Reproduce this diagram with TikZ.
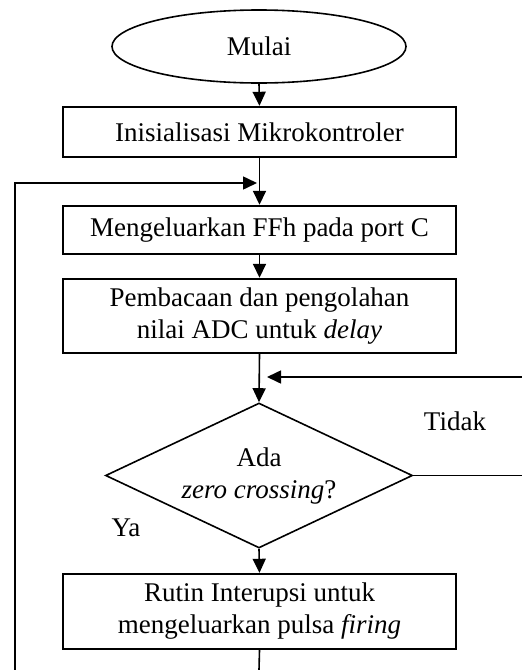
\documentclass[tikz,border=0pt]{standalone}
\usepackage{fontspec}
\setmainfont{Liberation Serif}
\usetikzlibrary{shapes.geometric,arrows.meta}
\begin{document}
\begin{tikzpicture}[x=1pt,y=-1pt,
  every node/.style={font=\fontsize{27}{32}\selectfont},
  procbox/.style={draw,line width=2.4pt,minimum width=393pt,inner sep=0pt,align=center},
  term/.style={draw,ellipse,line width=1.6pt,minimum width=294pt,minimum height=73pt,inner sep=0pt},
  decide/.style={draw,diamond,aspect=2.117,line width=1.6pt,minimum width=307pt,minimum height=145pt,inner sep=0pt,align=center},
  conn/.style={line width=1.6pt},
  arr/.style={conn,-{Triangle[width=13pt,length=14pt]}},
  lbl/.style={inner sep=0pt}]
\fill[white] (0,0) rectangle (522,670);
\useasboundingbox (0,0) rectangle (522,670);

\node[term] (start) at (259,46.5) {Mulai};
\node[procbox,minimum height=50pt] (init) at (259.5,132) {Inisialisasi Mikrokontroler};
\node[procbox,minimum height=48pt] (ffh) at (259.5,230) {Mengeluarkan FFh pada port C};
\node[procbox,minimum height=74pt] (adc) at (259.5,316) {Pembacaan dan pengolahan\\nilai ADC untuk \textit{delay}};
\node[decide] (zc) at (259,475.5) {Ada\\\textit{zero crossing}?};
\node[procbox,minimum height=75pt] (fire) at (259.5,611.5) {Rutin Interupsi untuk\\mengeluarkan pulsa \textit{firing}};

\node[lbl] (tidak) at (455,421) {Tidak};
\node[lbl] (ya) at (126,528) {Ya};

\coordinate (j1) at (257,183);
\coordinate (j2) at (267,377);
\coordinate (bl) at (15,670);
\coordinate (bc) at (259,670);
\coordinate (rt) at (522,377);
\coordinate (rz) at (522,475.5);

\draw[arr] (start.south) -- (init.north);
\draw[arr] (init.south) -- (ffh.north);
\draw[arr] (ffh.south) -- (adc.north);
\draw[arr] (adc.south) -- (zc.north);
\draw[arr] (zc.south) -- (fire.north);
\draw[conn] (fire.south) -- (bc);
\draw[arr] (bl) |- (j1);
\draw[conn] (zc.east) -- (rz);
\draw[arr] (rt) -- (j2);
\end{tikzpicture}
\end{document}
